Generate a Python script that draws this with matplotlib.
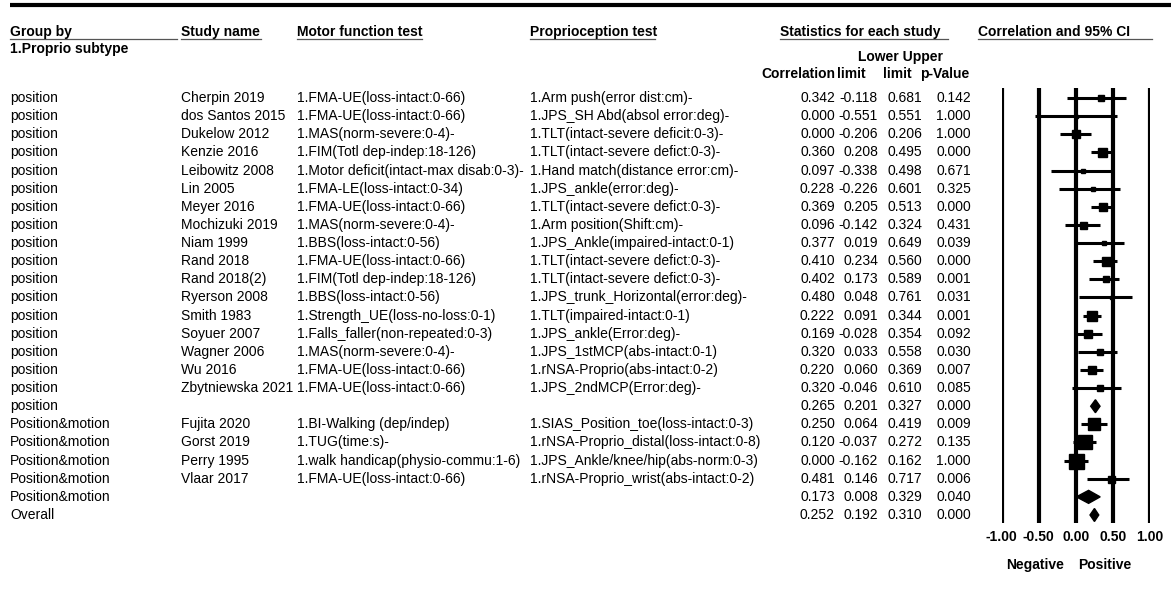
import matplotlib
matplotlib.use("Agg")
import matplotlib.pyplot as plt
import numpy as np

plt.rcParams["font.family"] = ["Liberation Sans", "DejaVu Sans"]
plt.rcParams["font.size"] = 10

# ---- data (one entry per row, top to bottom) ----
groups = ["position"] * 18 + ["Position&motion"] * 5 + ["Overall"]
studies = [
    "Cherpin 2019", "dos Santos 2015", "Dukelow 2012", "Kenzie 2016", "Leibowitz 2008",
    "Lin 2005", "Meyer 2016", "Mochizuki 2019", "Niam 1999", "Rand 2018", "Rand 2018(2)",
    "Ryerson 2008", "Smith 1983", "Soyuer 2007", "Wagner 2006", "Wu 2016",
    "Zbytniewska 2021", "",
    "Fujita 2020", "Gorst 2019", "Perry 1995", "Vlaar 2017", "",
    "",
]
motor_tests = [
    "1.FMA-UE(loss-intact:0-66)", "1.FMA-UE(loss-intact:0-66)", "1.MAS(norm-severe:0-4)-",
    "1.FIM(Totl dep-indep:18-126)", "1.Motor deficit(intact-max disab:0-3)-",
    "1.FMA-LE(loss-intact:0-34)", "1.FMA-UE(loss-intact:0-66)", "1.MAS(norm-severe:0-4)-",
    "1.BBS(loss-intact:0-56)", "1.FMA-UE(loss-intact:0-66)", "1.FIM(Totl dep-indep:18-126)",
    "1.BBS(loss-intact:0-56)", "1.Strength_UE(loss-no-loss:0-1)",
    "1.Falls_faller(non-repeated:0-3)", "1.MAS(norm-severe:0-4)-",
    "1.FMA-UE(loss-intact:0-66)", "1.FMA-UE(loss-intact:0-66)", "",
    "1.BI-Walking (dep/indep)", "1.TUG(time:s)-", "1.walk handicap(physio-commu:1-6)",
    "1.FMA-UE(loss-intact:0-66)", "",
    "",
]
proprio_tests = [
    "1.Arm push(error dist:cm)-", "1.JPS_SH Abd(absol error:deg)-",
    "1.TLT(intact-severe deficit:0-3)-", "1.TLT(intact-severe defict:0-3)-",
    "1.Hand match(distance error:cm)-", "1.JPS_ankle(error:deg)-",
    "1.TLT(intact-severe defict:0-3)-", "1.Arm position(Shift:cm)-",
    "1.JPS_Ankle(impaired-intact:0-1)", "1.TLT(intact-severe defict:0-3)-",
    "1.TLT(intact-severe defict:0-3)-", "1.JPS_trunk_Horizontal(error:deg)-",
    "1.TLT(impaired-intact:0-1)", "1.JPS_ankle(Error:deg)-", "1.JPS_1stMCP(abs-intact:0-1)",
    "1.rNSA-Proprio(abs-intact:0-2)", "1.JPS_2ndMCP(Error:deg)-", "",
    "1.SIAS_Position_toe(loss-intact:0-3)", "1.rNSA-Proprio_distal(loss-intact:0-8)",
    "1.JPS_Ankle/knee/hip(abs-norm:0-3)", "1.rNSA-Proprio_wrist(abs-intact:0-2)", "",
    "",
]
corr = [0.342, 0.000, 0.000, 0.360, 0.097, 0.228, 0.369, 0.096, 0.377, 0.410, 0.402,
        0.480, 0.222, 0.169, 0.320, 0.220, 0.320, 0.265,
        0.250, 0.120, 0.000, 0.481, 0.173,
        0.252]
lower = [-0.118, -0.551, -0.206, 0.208, -0.338, -0.226, 0.205, -0.142, 0.019, 0.234, 0.173,
         0.048, 0.091, -0.028, 0.033, 0.060, -0.046, 0.201,
         0.064, -0.037, -0.162, 0.146, 0.008,
         0.192]
upper = [0.681, 0.551, 0.206, 0.495, 0.498, 0.601, 0.513, 0.324, 0.649, 0.560, 0.589,
         0.761, 0.344, 0.354, 0.558, 0.369, 0.610, 0.327,
         0.419, 0.272, 0.162, 0.717, 0.329,
         0.310]
pval = [0.142, 1.000, 1.000, 0.000, 0.671, 0.325, 0.000, 0.431, 0.039, 0.000, 0.001,
        0.031, 0.001, 0.092, 0.030, 0.007, 0.085, 0.000,
        0.009, 0.135, 1.000, 0.006, 0.040,
        0.000]
# relative weight -> square size (pixels); 0 marks a summary diamond
weight_px = [6, 3, 8, 9, 5, 5, 8, 7, 5, 9, 6, 3, 10, 8, 6, 8, 6, 0,
             12, 14, 15, 7, 0,
             0]
xticks = [-1.0, -0.5, 0.0, 0.5, 1.0]

# ---- layout (pixels) ----
W, H = 1171, 594
row0, dy = 98, 18.13
fig = plt.figure(figsize=(W / 100, H / 100), dpi=100)
bg = fig.add_axes([0, 0, 1, 1])
bg.set_xlim(0, W)
bg.set_ylim(H, 0)
bg.axis("off")

bg.plot([10, W], [5, 5], color="black", lw=3, solid_capstyle="butt")

hy = 32
heads = [(10, "Group by", 177), (181, "Study name", 261), (297, "Motor function test", 422),
         (530, "Proprioception test", 655), (780, "Statistics for each study", 948),
         (978, "Correlation and 95% CI", 1152)]
for x, txt, x2 in heads:
    bg.text(x, hy, txt, fontweight="bold", va="center", ha="left")
    bg.plot([x, x2], [hy + 6.5, hy + 6.5], color="#555555", lw=0.9)
bg.text(10, 49, "1.Proprio subtype", fontweight="bold", va="center", ha="left")
bg.text(900, 57, "Lower Upper", fontweight="bold", va="center", ha="center")
bg.text(835, 74, "Correlation", fontweight="bold", va="center", ha="right")
bg.text(851, 74, "limit", fontweight="bold", va="center", ha="center")
bg.text(897, 74, "limit", fontweight="bold", va="center", ha="center")
bg.text(969, 74, "p-Value", fontweight="bold", va="center", ha="right")

for i in range(len(groups)):
    y = row0 + i * dy
    bg.text(10, y, groups[i], va="center")
    bg.text(181, y, studies[i], va="center")
    bg.text(297, y, motor_tests[i], va="center")
    bg.text(530, y, proprio_tests[i], va="center")
    bg.text(835, y, f"{corr[i]:.3f}", va="center", ha="right")
    bg.text(878, y, f"{lower[i]:.3f}", va="center", ha="right")
    bg.text(922, y, f"{upper[i]:.3f}", va="center", ha="right")
    bg.text(971, y, f"{pval[i]:.3f}", va="center", ha="right")

# ---- forest plot ----
x0, x1, ytop, ybot = 1001.5, 1150, 88, 523
ax = fig.add_axes([x0 / W, 1 - ybot / H, (x1 - x0) / W, (ybot - ytop) / H])
ax.set_xlim(-1, 1)
ax.set_ylim(-(ybot - row0) / dy, (row0 - ytop) / dy)
for s in ax.spines.values():
    s.set_visible(False)
ax.set_yticks([])
ax.set_xticks(xticks)
ax.set_xticklabels([f"{t:.2f}" for t in xticks], fontweight="bold")
ax.tick_params(axis="x", length=0, pad=5)
for t in xticks:
    ax.axvline(t, color="black", lw=3, zorder=1)

hd = 6.5 / dy
for i in range(len(groups)):
    y = -i
    if weight_px[i] > 0:
        ax.plot([lower[i], upper[i]], [y, y], color="black", lw=2.2, zorder=2,
                solid_capstyle="butt")
        ax.plot(corr[i], y, marker="s", color="black", ms=weight_px[i] * 0.72, zorder=3)
    else:
        ax.fill([lower[i], corr[i], upper[i], corr[i]], [y, y + hd, y, y - hd],
                color="black", zorder=3)

bg.text(1035, 565, "Negative", fontweight="bold", va="center", ha="center")
bg.text(1105, 565, "Positive", fontweight="bold", va="center", ha="center")

fig.savefig("out.png", dpi=100)
